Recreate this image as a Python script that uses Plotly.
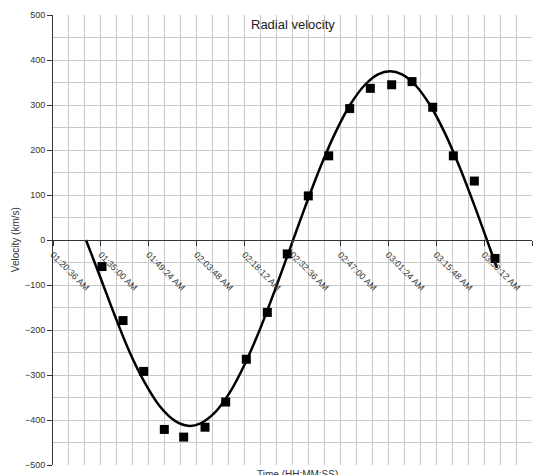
import plotly.graph_objects as go

DAY = "2000-01-01 "

# Measured points (time, radial velocity km/s)
point_times = ["01:35:20", "01:41:39", "01:47:52", "01:54:04", "01:59:53",
               "02:06:18", "02:12:31", "02:18:43", "02:25:02", "02:31:02",
               "02:37:21", "02:43:29", "02:49:48", "02:56:00", "03:02:25",
               "03:08:32", "03:14:45", "03:20:57", "03:27:16", "03:33:29"]
point_values = [-59, -179, -292, -421, -438, -416, -360, -265, -161, -31,
                98, 187, 292, 337, 345, 352, 295, 187, 131, -41]

# Fitted curve
curve_times = ["01:30:31", "01:34:44", "01:39:14", "01:43:45", "01:48:16",
               "01:52:46", "01:57:17", "02:01:11", "02:04:48", "02:09:18",
               "02:13:49", "02:18:19", "02:22:50", "02:27:20", "02:31:51",
               "02:36:22", "02:40:52", "02:45:23", "02:49:53", "02:54:24",
               "02:58:18", "03:01:55", "03:05:31", "03:09:26", "03:13:56",
               "03:18:27", "03:22:57", "03:27:28", "03:31:59", "03:34:05"]
curve_values = [0, -81, -169, -251, -318, -370, -402, -413, -408, -383,
                -338, -275, -198, -111, -19, 73, 160, 237, 300, 345,
                368, 375, 368, 345, 300, 237, 160, 73, -19, -62]

x_start = "01:20:36"
x_end = "03:44:36"

FONT = "Liberation Sans, Arial, sans-serif"
GRID = "#c8c8c8"

fig = go.Figure()
fig.add_trace(go.Scatter(
    x=[DAY + t for t in curve_times], y=curve_values, mode="lines",
    line=dict(color="black", width=2.5, shape="spline", smoothing=1.0),
    showlegend=False, hoverinfo="skip"))
fig.add_trace(go.Scatter(
    x=[DAY + t for t in point_times], y=point_values, mode="markers",
    marker=dict(symbol="square", size=9, color="black"),
    showlegend=False))

fig.update_layout(
    width=560, height=475,
    margin=dict(l=53, r=28, t=15, b=10),
    paper_bgcolor="white", plot_bgcolor="white",
    font=dict(family=FONT, size=9, color="#333333"),
    xaxis=dict(
        type="date",
        range=[DAY + x_start, DAY + x_end],
        tick0=DAY + x_start, dtick=864000,
        tickformat="%I:%M:%S %p",
        tickangle=45,
        tickfont=dict(size=9, color="#333333"),
        anchor="free", position=0.5,
        showline=True, linecolor="#333333", linewidth=1,
        ticks="outside", ticklen=5, tickcolor="#333333",
        showgrid=True, gridcolor=GRID, gridwidth=1,
        minor=dict(tick0=DAY + x_start, dtick=288000, showgrid=True,
                   gridcolor=GRID, gridwidth=1),
        zeroline=False, automargin=False,
    ),
    yaxis=dict(
        range=[-500, 500], dtick=100, tick0=0,
        tickfont=dict(size=9, color="#333333"),
        showline=True, linecolor="#333333", linewidth=1,
        ticks="outside", ticklen=5, tickcolor="#333333",
        showgrid=True, gridcolor=GRID, gridwidth=1,
        minor=dict(tick0=0, dtick=50, showgrid=True, gridcolor=GRID, gridwidth=1),
        zeroline=False, automargin=False,
    ),
    annotations=[
        dict(text="Radial velocity", xref="paper", yref="paper",
             x=0.5, y=0.98, xanchor="center", yanchor="middle",
             showarrow=False, font=dict(family=FONT, size=13, color="#222222")),
        dict(text="Time (HH:MM:SS)", xref="paper", yref="paper",
             x=0.511, y=-0.004, xanchor="center", yanchor="top",
             showarrow=False, font=dict(family=FONT, size=10, color="#333333")),
        dict(text="Velocity (km/s)", xref="paper", yref="paper",
             x=-0.079, y=0.5, xanchor="center", yanchor="middle",
             textangle=-90,
             showarrow=False, font=dict(family=FONT, size=10, color="#333333")),
    ],
)

fig.write_html("out.html",
               config={"displayModeBar": False, "staticPlot": True},
               post_script="document.body.style.margin='0';document.body.style.padding='0';")
